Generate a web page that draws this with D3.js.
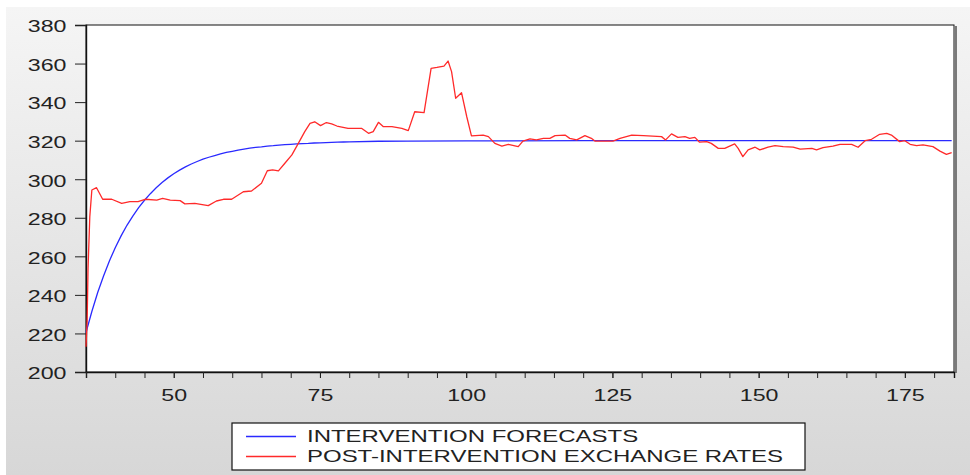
<!DOCTYPE html>
<html lang="en">
<head>
<meta charset="utf-8">
<script src="https://d3js.org/d3.v7.min.js"></script>
<style>
  body { margin: 0; background: #fff; }
  svg { display: block; }
  text { font-family: "Liberation Sans", Arial, sans-serif; fill: #222; }
</style>
</head>
<body>
<div id="chart"></div>
<script>
// intervention forecasts (observation number, level)
const blueX = [35,36,37,38,39,40,41,42,43,44,45,46,47,48,49,50,51,52,53,54,55,56,57,58,59,60,
  61,62,63,64,65,66,67,68,69,70,71,72,73,74,75,76,77,78,79,80,85,90,100,120,183];
const blueY = [220.5,231.4,241.2,249.8,257.6,264.5,270.6,276.1,280.9,285.3,289.1,292.5,295.6,298.3,300.7,
  302.8,304.7,306.4,307.9,309.2,310.4,311.4,312.3,313.1,313.9,314.5,315.1,315.6,316.1,316.5,316.8,
  317.2,317.4,317.7,317.9,318.1,318.3,318.5,318.6,318.8,318.9,319.0,319.1,319.2,319.3,319.4,319.7,
  319.8,319.9,320.0,320.0];

// post-intervention exchange rates
const redX = [35,35.2,35.35,35.65,36,36.8,37.85,39.4,41.1,42.5,43.9,45.1,47.1,48.1,49.4,51.1,51.9,53.6,55.9,
  57.3,58.5,59.9,61.9,63.3,65.0,66.0,66.9,67.9,69.0,70.2,71.3,72.4,73.3,74.1,75.1,76.1,77.0,77.9,79.8,
  82.1,83.3,84.1,85.0,85.8,87.3,89.0,90.1,91.2,92.8,94.0,95.0,96.2,96.9,97.5,98.2,99.2,100.1,100.9,
  102.9,103.8,104.9,106.1,107.2,108.9,109.7,110.9,112.0,113.2,114.3,115.2,116.9,117.7,118.9,120.3,
  121.4,122.0,125.1,126.3,128.3,130.3,133.4,134.1,135.1,136.2,137.4,138.2,139.1,139.9,141.1,141.9,
  143.1,144.2,145.9,146.5,147.3,148.2,149.4,150.2,151.6,152.8,154.2,155.9,157.1,159.1,159.9,161.0,
  162.7,163.9,165.9,167.0,168.2,169.3,170.7,171.9,172.7,174.1,175.0,175.9,177.0,178.1,179.8,181.0,
  182.1,183.0];
const redY = [213.1,226.9,253.8,280.6,294.4,295.6,289.6,289.6,287.5,288.4,288.4,289.6,289.2,290.1,289.2,
  288.9,287.2,287.5,286.3,288.7,289.6,289.6,293.5,293.9,297.9,304.4,304.8,304.3,308.3,312.6,318.6,
  324.7,329.0,329.8,327.8,329.4,328.7,327.6,326.4,326.4,323.8,324.7,329.5,327.3,327.3,326.4,325.2,
  335.0,334.5,357.5,358.0,358.7,361.3,355.8,342.0,344.9,332.4,322.5,322.9,322.1,318.6,317.2,318.1,
  316.9,319.8,320.9,320.4,321.2,321.2,322.6,322.9,321.2,320.4,322.6,321.2,319.8,319.8,321.2,322.9,
  322.6,322.1,320.4,323.5,321.7,322.1,321.2,321.7,319.2,319.5,318.6,316.0,316.0,318.3,316.0,311.7,
  315.2,316.6,315.2,316.6,317.4,316.9,316.6,315.6,316.0,315.2,316.4,317.2,318.1,318.1,316.6,320.0,
  320.7,323.3,323.8,322.9,319.5,320.0,318.1,317.4,317.8,316.9,314.6,312.9,313.8];

const yTicks = [200,220,240,260,280,300,320,340,360,380];
const xMajor = [50,75,100,125,150,175];
const xMinor = d3.range(35, 184, 5);
const seriesNames = ["INTERVENTION FORECASTS", "POST-INTERVENTION EXCHANGE RATES"];
const seriesColors = ["#2a2aff", "#ff2a2a"];

const width = 970, height = 475;
const sx = 1.45;   // text in the picture is stretched horizontally
const sxLeg = 1.5;

const svg = d3.select("#chart").append("svg")
    .attr("width", width).attr("height", height);

const defs = svg.append("defs");
const grad = defs.append("linearGradient").attr("id", "bg")
    .attr("x1", 0).attr("y1", 0).attr("x2", 0).attr("y2", 1);
grad.append("stop").attr("offset", "0%").attr("stop-color", "#f5f5f5");
grad.append("stop").attr("offset", "100%").attr("stop-color", "#d7d7d7");

svg.append("rect").attr("x", 6).attr("y", 7)
    .attr("width", width - 6).attr("height", height - 7)
    .attr("fill", "url(#bg)");

const x = d3.scaleLinear().domain([35, 183.4]).range([86, 954]);
const y = d3.scaleLinear().domain([200, 380]).range([372, 25]);

// plot area
svg.append("rect")
    .attr("x", x.range()[0]).attr("y", y.range()[1])
    .attr("width", x.range()[1] - x.range()[0])
    .attr("height", y.range()[0] - y.range()[1])
    .attr("fill", "#fff").attr("stroke", "#111").attr("stroke-width", 1);
// little shadow on the right side
svg.append("rect")
    .attr("x", x.range()[1] + 0.5).attr("y", y.range()[1] + 1)
    .attr("width", 2.5).attr("height", y.range()[0] - y.range()[1])
    .attr("fill", "#7a7a7a");

// y axis
const yAxis = svg.append("g")
    .attr("transform", `translate(${x.range()[0]},0)`)
    .call(d3.axisLeft(y).tickValues(yTicks).tickSize(11).tickPadding(0));
yAxis.select(".domain").attr("stroke", "#111").attr("stroke-width", 1.4);
yAxis.selectAll("line").attr("stroke", "#222");
yAxis.selectAll("text")
    .attr("font-size", 16).attr("fill", "#222")
    .attr("x", -19.5 / sx).attr("dy", "0.43em")
    .attr("transform", `scale(${sx},1)`);

// x axis: minor ticks every 5, labels every 25
const xMinorAxis = svg.append("g")
    .attr("transform", `translate(0,${y.range()[0]})`)
    .call(d3.axisBottom(x).tickValues(xMinor).tickSize(6).tickFormat(""));
xMinorAxis.select(".domain").attr("stroke", "#111").attr("stroke-width", 1.4);
xMinorAxis.selectAll("line").attr("stroke", "#222");

const xAxis = svg.append("g")
    .attr("transform", `translate(0,${y.range()[0]})`)
    .call(d3.axisBottom(x).tickValues(xMajor).tickSize(6).tickPadding(12));
xAxis.select(".domain").remove();
xAxis.selectAll("line").attr("stroke", "#222");
xAxis.selectAll("text")
    .attr("font-size", 16).attr("fill", "#222")
    .attr("transform", `scale(${sx},1)`);

// lines
const line = d3.line().x(d => x(d[0])).y(d => y(d[1]));
const blueData = blueX.map((v, i) => [v, blueY[i]]);
const redData = redX.map((v, i) => [v, redY[i]]);

svg.append("path").datum(blueData)
    .attr("fill", "none").attr("stroke", seriesColors[0]).attr("stroke-width", 1.3)
    .attr("d", line);
svg.append("path").datum(redData)
    .attr("fill", "none").attr("stroke", seriesColors[1]).attr("stroke-width", 1.3)
    .attr("stroke-linejoin", "round")
    .attr("d", line);

// legend
const legend = svg.append("g");
legend.append("rect")
    .attr("x", 232).attr("y", 423).attr("width", 573).attr("height", 47)
    .attr("fill", "#fff").attr("stroke", "#111").attr("stroke-width", 1.2);
seriesNames.forEach((name, i) => {
    const ly = 436.5 + i * 20;
    legend.append("line")
        .attr("x1", 246).attr("x2", 296).attr("y1", ly).attr("y2", ly)
        .attr("stroke", seriesColors[i]).attr("stroke-width", 1.3);
    legend.append("text")
        .attr("x", 307 / sxLeg).attr("y", ly + 6)
        .attr("font-size", 16)
        .attr("transform", `scale(${sxLeg},1)`)
        .text(name);
});
</script>
</body>
</html>
